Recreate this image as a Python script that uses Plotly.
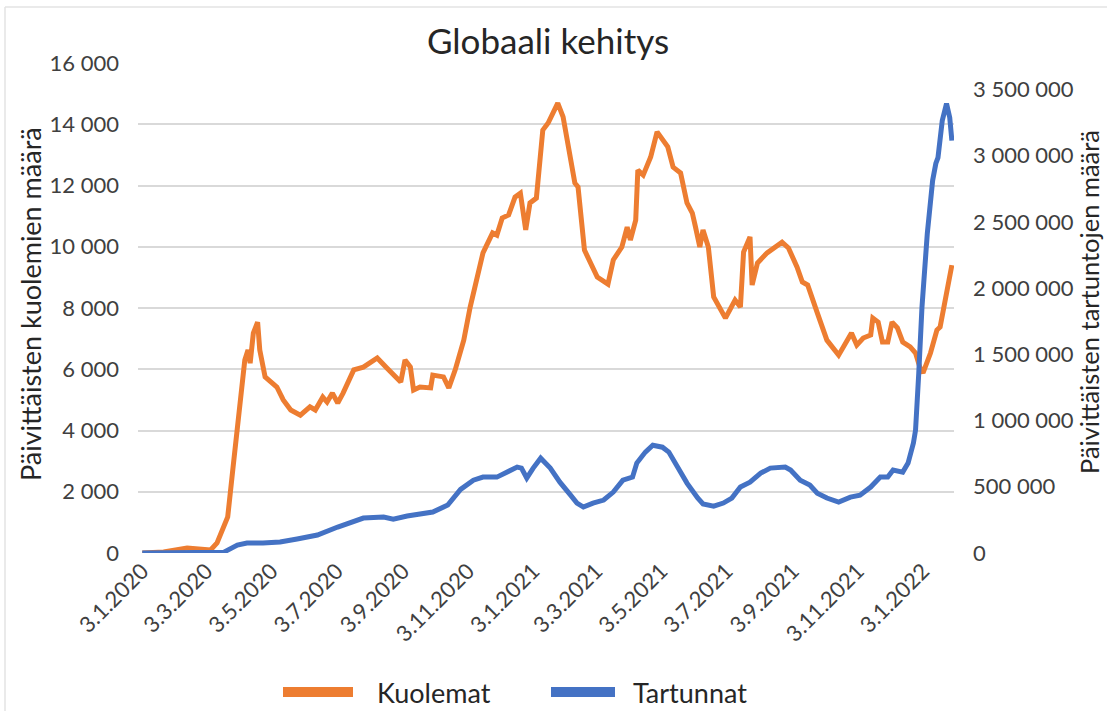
import pandas as pd
import plotly.graph_objects as go

FONT = "Lato"
ORANGE = "#ED7D31"
BLUE = "#4472C4"
GRID = "#D9D9D9"

START = pd.Timestamp("2020-01-03")

# deaths: day offset from 3.1.2020, daily deaths (7-day avg)
death_day = [0, 20, 42, 55, 64, 70, 80, 85, 92, 96, 99, 101, 104, 108, 110, 115,
             126, 132, 139, 148, 157, 162, 169, 173, 178, 183, 188, 198, 207, 220,
             229, 242, 246, 251, 254, 260, 270, 272, 282, 287, 293, 301, 307, 316,
             319, 328, 332, 337, 343, 349, 354, 359, 363, 369, 375, 380, 389, 394,
             398, 405, 408, 414, 426, 436, 441, 449, 454, 457, 462, 464, 469, 476,
             482, 488, 492, 497, 504, 510, 515, 518, 522, 525, 530, 535, 546, 555,
             560, 563, 569, 571, 576, 585, 591, 599, 605, 613, 618, 623, 632, 641,
             652, 660, 664, 669, 675, 682, 684, 689, 693, 698, 702, 707, 712, 719,
             724, 728, 731, 738, 744, 747, 752, 758]
deaths = [0, 30, 160, 120, 100, 330, 1180, 2800, 5000, 6300, 6630, 6200, 7180, 7540, 6630, 5750,
          5420, 5000, 4670, 4500, 4770, 4670, 5090, 4930, 5220, 4900, 5220, 5980, 6070, 6370,
          6040, 5580, 6300, 6070, 5320, 5420, 5390, 5810, 5750, 5390, 5980, 6950, 8030, 9240,
          9800, 10450, 10380, 10940, 11040, 11620, 11750, 10550, 11430, 11590, 13810, 14040, 14690, 14240,
          13480, 12080, 11950, 9890, 9010, 8780, 9570, 9990, 10640, 10220, 10870, 12500, 12340, 12930,
          13750, 13420, 13260, 12600, 12410, 11430, 11100, 10640, 9990, 10550, 9990, 8360, 7670, 8260,
          8030, 9830, 10320, 8750, 9470, 9800, 9960, 10150, 9960, 9340, 8850, 8750, 7840, 6950,
          6460, 6950, 7180, 6790, 7020, 7120, 7670, 7540, 6890, 6890, 7540, 7350, 6890, 6730,
          6530, 6070, 5880, 6530, 7280, 7380, 8260, 9400]

# infections: day offset from 3.1.2020, daily new cases (7-day avg)
case_day = [0, 76, 89, 98, 113, 129, 145, 164, 183, 207, 226, 235, 248, 257, 272, 286,
            298, 310, 319, 332, 342, 351, 355, 360, 366, 373, 382, 391, 401, 407, 413,
            422, 432, 441, 450, 459, 463, 471, 478, 487, 493, 501, 510, 520, 525, 535,
            544, 552, 560, 569, 579, 588, 602, 607, 616, 625, 632, 641, 652, 663, 672,
            682, 691, 698, 703, 712, 717, 722, 724, 727, 730, 735, 740, 743, 745, 749,
            753, 756, 758]
cases = [0, 5000, 60000, 75000, 75000, 83000, 106000, 136000, 196000, 264000, 271000, 256000, 279000, 287000, 309000, 362000,
         480000, 550000, 573000, 573000, 611000, 649000, 641000, 566000, 641000, 716000, 641000, 535000, 437000, 377000, 347000,
         377000, 400000, 460000, 550000, 573000, 679000, 762000, 814000, 799000, 762000, 649000, 528000, 415000, 370000, 354000,
         377000, 415000, 498000, 535000, 603000, 641000, 649000, 626000, 550000, 513000, 452000, 415000, 385000, 422000, 437000,
         498000, 573000, 573000, 626000, 611000, 679000, 830000, 928000, 1357000, 1855000, 2413000, 2813000, 2941000, 2986000, 3265000,
         3393000, 3288000, 3114000]

tick_dates = ["2020-01-03", "2020-03-03", "2020-05-03", "2020-07-03", "2020-09-03",
              "2020-11-03", "2021-01-03", "2021-03-03", "2021-05-03", "2021-07-03",
              "2021-09-03", "2021-11-03", "2022-01-03"]
tick_text = ["3.1.2020", "3.3.2020", "3.5.2020", "3.7.2020", "3.9.2020", "3.11.2020",
             "3.1.2021", "3.3.2021", "3.5.2021", "3.7.2021", "3.9.2021", "3.11.2021",
             "3.1.2022"]

death_x = START + pd.to_timedelta(death_day, unit="D")
case_x = START + pd.to_timedelta(case_day, unit="D")

fig = go.Figure()
fig.add_trace(go.Scatter(x=death_x, y=deaths, name="Kuolemat", mode="lines",
                         line=dict(color=ORANGE, width=5), yaxis="y"))
fig.add_trace(go.Scatter(x=case_x, y=cases, name="Tartunnat", mode="lines",
                         line=dict(color=BLUE, width=5), yaxis="y2"))

# plot area: x 138..954, y 63..553 px
W, H = 1107, 711
L, R, T, B = 138, 153, 63, 158
pw, ph = W - L - R, H - T - B


def px(x):
    return (x - L) / pw


def py(y):
    return (H - B - y) / ph


tick_font = dict(family=FONT, size=22, color="#404040")
text_col = "#262626"

# hand-made legend (long thick swatches like the original)
shapes = [
    dict(type="line", xref="paper", yref="paper", x0=px(283), x1=px(353), y0=py(692), y1=py(692),
         line=dict(color=ORANGE, width=10)),
    dict(type="line", xref="paper", yref="paper", x0=px(551), x1=px(615), y0=py(692), y1=py(692),
         line=dict(color=BLUE, width=10)),
    # chart frame (left and top edges visible)
    dict(type="line", xref="paper", yref="paper", x0=px(5), x1=px(5), y0=py(7), y1=py(711),
         line=dict(color="#E3E3E3", width=1.5)),
    dict(type="line", xref="paper", yref="paper", x0=px(5), x1=px(1107), y0=py(7), y1=py(7),
         line=dict(color="#E3E3E3", width=1.5)),
]

annotations = [
    dict(text="Kuolemat", xref="paper", yref="paper", x=px(375), y=py(692), xanchor="left",
         yanchor="middle", showarrow=False, font=dict(family=FONT, size=27, color=text_col)),
    dict(text="Tartunnat", xref="paper", yref="paper", x=px(631), y=py(692), xanchor="left",
         yanchor="middle", showarrow=False, font=dict(family=FONT, size=27, color=text_col)),
    dict(text="Päivittäisten kuolemien määrä", xref="paper", yref="paper", x=px(30), y=py(304),
         xanchor="center", yanchor="middle", textangle=-90, showarrow=False,
         font=dict(family=FONT, size=27, color=text_col)),
    dict(text="Päivittäisten tartuntojen määrä", xref="paper", yref="paper", x=px(1089), y=py(302),
         xanchor="center", yanchor="middle", textangle=-90, showarrow=False,
         font=dict(family=FONT, size=25.5, color=text_col)),
]

fig.update_layout(
    width=W,
    height=H,
    margin=dict(l=L, r=R, t=T, b=B, autoexpand=False),
    paper_bgcolor="white",
    plot_bgcolor="white",
    separators=", ",
    showlegend=False,
    title=dict(text="Globaali kehitys", x=548 / W, xanchor="center", y=1 - 42 / H, yanchor="middle",
               font=dict(family=FONT, size=35, color=text_col)),
    xaxis=dict(
        type="date",
        range=["2019-12-30", "2022-02-01"],
        tickvals=tick_dates,
        ticktext=tick_text,
        tickangle=-45,
        tickfont=tick_font,
        showgrid=False,
        zeroline=False,
        showline=False,
        ticks="",
    ),
    yaxis=dict(
        range=[0, 16000],
        dtick=2000,
        tickformat=",d",
        tickfont=tick_font,
        showgrid=True,
        gridcolor=GRID,
        gridwidth=1.5,
        zeroline=False,
        ticklabelstandoff=18,
    ),
    yaxis2=dict(
        overlaying="y",
        side="right",
        range=[0, 3700000],
        dtick=500000,
        tickformat=",d",
        tickfont=tick_font,
        showgrid=False,
        zeroline=False,
        ticklabelstandoff=18,
    ),
    shapes=shapes,
    annotations=annotations,
)

# drop the default 8px page margin so the figure sits at the window's corner
fig.write_html("out.html", config={"displayModeBar": False},
               post_script="document.body.style.margin='0';")
